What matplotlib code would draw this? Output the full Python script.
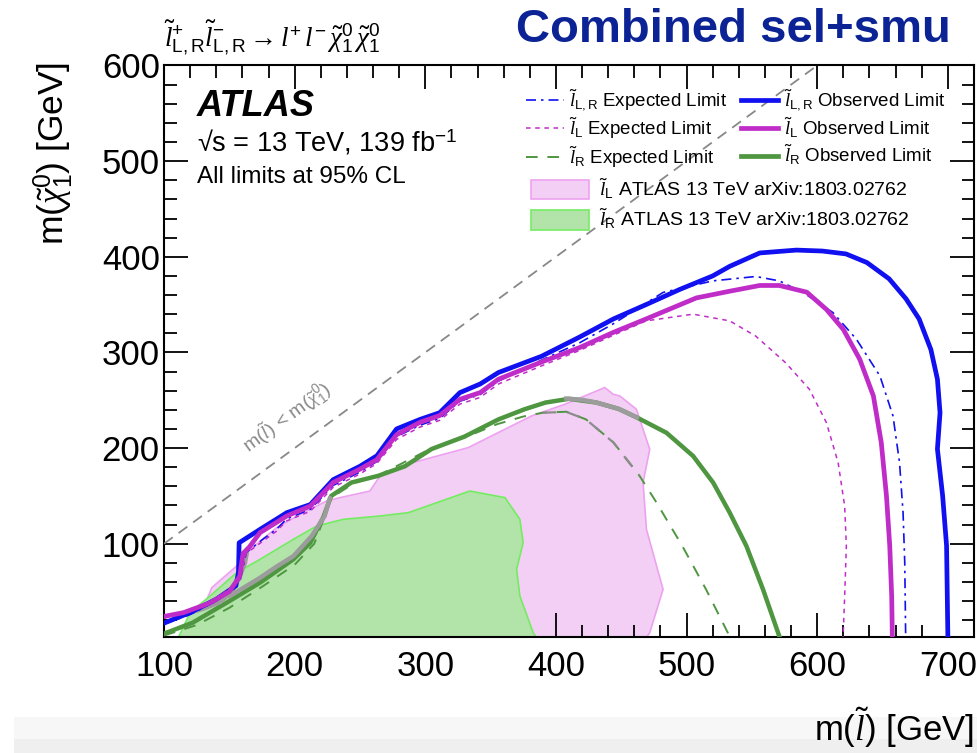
import matplotlib
matplotlib.use('Agg')
import matplotlib.pyplot as plt
from matplotlib.lines import Line2D
from matplotlib.patches import Patch, Rectangle
from matplotlib.font_manager import FontProperties
from matplotlib.ticker import MultipleLocator

plt.rcParams['font.family'] = ['Liberation Sans', 'DejaVu Sans']
plt.rcParams['mathtext.fontset'] = 'custom'
plt.rcParams['mathtext.rm'] = 'Liberation Sans'
plt.rcParams['mathtext.sf'] = 'Liberation Sans'
plt.rcParams['mathtext.it'] = 'Liberation Serif:italic'
plt.rcParams['mathtext.bf'] = 'Liberation Sans:bold'
plt.rcParams['mathtext.fallback'] = 'stix'

# ---------------- data (GeV) ----------------
blue_obs_x = [100, 120, 140, 155, 157, 157.5, 173.5, 194, 212, 229.5, 250, 263, 278, 296, 311, 326.5, 342, 356, 389,
              418, 444, 469, 495, 520, 533, 556, 584, 604, 622, 638, 655, 668, 678, 687, 692, 694, 692, 696, 699, 700]
blue_obs_y = [17, 28, 42, 56, 70, 101, 115, 132.5, 141, 167, 181, 192, 220, 230, 237, 258, 267, 279, 296,
              316, 335, 350, 366, 380, 390, 404, 407, 406, 403, 394, 377, 356, 335, 303, 272, 237, 199, 150, 98, 2]

blue_exp_x = [100, 120, 140, 158, 163, 175, 186, 194, 212, 229.5, 250, 263, 278, 296, 311, 326.5, 342, 356, 389,
              418, 444, 482, 520, 553, 571, 590, 612, 630, 648, 658, 663, 665.7, 667, 667.7]
blue_exp_y = [16, 26, 40, 60, 91, 104, 115, 126, 136, 161, 175, 186, 212, 224, 231, 249, 256, 270, 292,
              310, 330, 362.7, 374.8, 379.4, 374.8, 362, 341.7, 313.8, 275.4, 233.6, 184.8, 132.5, 80, 2]

mag_obs_x = [100, 115, 135, 150, 158, 160.5, 165, 173.5, 194, 212, 229.5, 250, 263, 278, 296, 311, 326.5, 342, 356,
             389, 418, 444, 469, 507.5, 533, 556, 571, 592, 607, 620, 632.5, 643, 649, 653, 655.5, 657, 657.5]
mag_obs_y = [24, 28, 38, 50, 66, 90, 96, 111.6, 129, 139.4, 164, 178, 188, 214, 227, 234, 251, 258, 272,
             290, 305, 321, 335, 357, 364, 370, 370, 363, 345, 324, 293, 254.5, 206, 150, 98, 45, 2]

mag_exp_x = [100, 120, 140, 158, 163, 175, 186, 194, 212, 229.5, 250, 263, 278, 296, 311, 326.5, 342, 356, 389,
             418, 444, 469, 505, 533, 553, 576, 594, 607, 616, 621, 622.3, 621, 619.8]
mag_exp_y = [22, 30, 42, 62, 90, 102, 113, 124, 134, 159, 173, 184, 209, 222, 229, 246, 253, 267, 286,
             302, 318, 333, 340, 333, 317, 289, 261.5, 226.7, 184.8, 139.4, 97.6, 45.3, 2]

green_obs_x = [100, 122, 148, 173.5, 199, 212, 222, 228, 243.5, 264, 284.4, 304.8, 330, 356, 376, 392, 410, 431,
               448, 462, 484.6, 505, 520.3, 533, 545.8, 558.5, 571.3]
green_obs_y = [6, 17.5, 38.4, 59.3, 83.7, 101, 128, 150, 164, 171, 181, 199, 212, 230, 240.6, 247.6, 251.5, 247.6,
               241, 232, 216, 191.7, 164, 132.5, 97.6, 52.3, 2]

green_exp_x = [100, 125, 150, 175, 200, 215, 222, 228, 245, 265, 285, 305, 330, 355, 375, 390, 408, 423, 444, 464,
               477, 497, 515, 533]
green_exp_y = [4, 15, 33, 55, 78, 100, 125, 148, 163, 172, 186, 200, 211, 225, 233, 237, 238, 230, 206, 171,
               143, 97, 52, 3]

gray_a_x = [112, 130, 143, 152, 158, 162, 164]
gray_a_y = [25, 32, 39, 50, 66, 80, 95]
gray_b_x = [150, 173, 186, 199, 213, 223, 227]
gray_b_y = [45, 64, 76, 87, 108, 129, 148]
gray_top_x = [408, 420, 431, 448, 462]
gray_top_y = [251.8, 250.5, 247.6, 241, 232]
gray_dash_x = [390, 408, 423, 444, 464]
gray_dash_y = [237, 237.8, 230, 205.8, 170.8]

pink_x = [120, 135, 136.5, 155.6, 165.8, 186.2, 206.6, 224.5, 234.7, 257.6, 265.3, 285.7, 332.9, 355.8, 381.3,
          406.8, 437.4, 443.8, 448.9, 461.6, 471.8, 466.7, 469.3, 482, 471.8, 469.3]
pink_y = [2, 48.8, 54, 76.7, 94, 116.8, 132.5, 144.7, 148.2, 155.1, 170.8, 183.1, 200.5, 216.2, 233.6,
          245.8, 263.3, 256.3, 254.5, 240.6, 198.7, 163.9, 115, 52.3, 7, 2]

gfill_x = [111, 120, 135.2, 155.6, 173.5, 199, 216.8, 237.2, 265.3, 287, 334.1, 361, 372.4, 374.9, 369.9, 372.4,
           382.6, 385]
gfill_y = [2, 28, 45.3, 69.8, 83.7, 104.6, 118.5, 125.5, 129, 132.5, 155.1, 148.2, 125.5, 101.2, 73.2, 45.3,
           7, 2]

diag = [100, 600]

x_ticks = [100, 200, 300, 400, 500, 600, 700]
y_ticks = [100, 200, 300, 400, 500, 600]

# ---------------- styles ----------------
C_BLUE = '#1010F0'
C_MAG = '#C02CC8'
C_GREEN = '#4E9640'
C_GRAY = '#9c9c9c'
PINK_FC = '#F3CFF5'
PINK_EC = '#EDA2F0'
GREEN_FC = '#B2E4AA'
GREEN_EC = '#74EC62'

W, H = 978, 753
fig = plt.figure(figsize=(W / 100, H / 100), dpi=100)
fig.patches.append(Rectangle((14 / W, 0), 1, 36 / H, transform=fig.transFigure,
                             facecolor='#f7f7f7', edgecolor='none', zorder=0))
fig.patches.append(Rectangle((14 / W, 0), 1, 14 / H, transform=fig.transFigure,
                             facecolor='#efefef', edgecolor='none', zorder=0))

ax = fig.add_axes([164 / W, 1 - 637 / H, (974 - 164) / W, (637 - 65) / H])
ax.set_xlim(100, 720)
ax.set_ylim(2.5, 600.5)

ax.fill(pink_x, pink_y, facecolor=PINK_FC, edgecolor=PINK_EC, lw=1.2, zorder=1)
ax.fill(gfill_x, gfill_y, facecolor=GREEN_FC, edgecolor=GREEN_EC, lw=1.2, zorder=2)

ax.plot(diag, diag, color='#888888', lw=1.3, ls=(0, (6, 4)), zorder=3)
ax.text(194, 232, r'm($\tilde{l}$) < m($\tilde{\chi}^{0}_{1}$)', rotation=36.2, color='#8a8a8a',
        fontsize=14, ha='center', va='center', rotation_mode='anchor', zorder=3)

ax.plot(green_exp_x, green_exp_y, color=C_GREEN, lw=1.4, ls=(0, (6, 5)), zorder=4)
ax.plot(green_obs_x, green_obs_y, color=C_GREEN, lw=3.2, zorder=5)
ax.plot(gray_a_x, gray_a_y, color=C_GRAY, lw=3.2, zorder=6, solid_capstyle='round')
ax.plot(gray_b_x, gray_b_y, color=C_GRAY, lw=3.2, zorder=6, solid_capstyle='round')
ax.plot(gray_top_x, gray_top_y, color=C_GRAY, lw=3.2, zorder=6)
ax.plot(gray_dash_x, gray_dash_y, color='#8c8c8c', lw=1.6, ls=(0, (6, 5)), zorder=6)

ax.plot(blue_exp_x, blue_exp_y, color=C_BLUE, lw=1.2, ls=(0, (6, 3, 1.5, 3)), zorder=7)
ax.plot(blue_obs_x, blue_obs_y, color=C_BLUE, lw=3.4, zorder=8)
ax.plot(mag_exp_x, mag_exp_y, color=C_MAG, lw=1.1, ls=(0, (3, 3)), zorder=9)
ax.plot(mag_obs_x, mag_obs_y, color=C_MAG, lw=3.4, zorder=10)

# axes style
ax.set_xticks(x_ticks)
ax.set_yticks(y_ticks)
ax.xaxis.set_minor_locator(MultipleLocator(20))
ax.yaxis.set_minor_locator(MultipleLocator(20))
ax.tick_params(which='both', direction='in', top=True, right=True, width=1.3, colors='black')
ax.tick_params(which='major', length=17)
ax.tick_params(which='minor', length=9)
ax.tick_params(axis='both', labelsize=25)
ax.tick_params(axis='x', pad=9)
ax.tick_params(axis='y', pad=3)
for s in ax.spines.values():
    s.set_linewidth(1.5)

# axis titles
fig.text(974 / W, 1 - 728 / H, r'm($\tilde{l}$) [GeV]', fontsize=25, ha='right', va='center')
fig.text(54 / W, 1 - 62 / H, r'm($\tilde{\chi}^{0}_{1}$) [GeV]', fontsize=25.5, ha='center', va='top',
         rotation=90)

# headers
fig.text(164 / W, 1 - 38 / H,
         r'$\tilde{l}^{+}_{\mathrm{L,R}}\tilde{l}^{-}_{\mathrm{L,R}}\rightarrow l^{+}\,l^{-}\,'
         r'\tilde{\chi}^{0}_{1}\,\tilde{\chi}^{0}_{1}$',
         fontsize=19.5, ha='left', va='center')
fig.text(951 / W, 1 - 30 / H, 'Combined sel+smu', fontsize=34, fontweight='bold', color='#0B2394',
         ha='right', va='center', family=['Liberation Sans Narrow', 'Liberation Sans'])

fig.text(197 / W, 1 - 106 / H, 'ATLAS', fontsize=26, fontweight='bold', fontstyle='italic', va='center')
fig.text(197 / W, 1 - 143 / H, '√s = 13 TeV, 139 fb$^{-1}$', fontsize=19.5, va='center')
fig.text(197 / W, 1 - 177 / H, 'All limits at 95% CL', fontsize=17.5, va='center')

# legends
fp1 = FontProperties(family='Liberation Sans', size=13.5)
fp2 = FontProperties(family='Liberation Sans', size=14)
h1 = [Line2D([], [], color=C_BLUE, lw=1.2, ls=(0, (6, 3, 1.5, 3))),
      Line2D([], [], color=C_MAG, lw=1.1, ls=(0, (3, 3))),
      Line2D([], [], color=C_GREEN, lw=1.4, ls=(0, (6, 5))),
      Line2D([], [], color=C_BLUE, lw=3.4),
      Line2D([], [], color=C_MAG, lw=3.4),
      Line2D([], [], color=C_GREEN, lw=3.4)]
l1 = [r'$\tilde{l}_{\mathrm{L,R}}$ Expected Limit', r'$\tilde{l}_{\mathrm{L}}$ Expected Limit',
      r'$\tilde{l}_{\mathrm{R}}$ Expected Limit', r'$\tilde{l}_{\mathrm{L,R}}$ Observed Limit',
      r'$\tilde{l}_{\mathrm{L}}$ Observed Limit', r'$\tilde{l}_{\mathrm{R}}$ Observed Limit']
leg1 = fig.legend(h1, l1, ncol=2, loc='upper left', bbox_to_anchor=(517 / W, 1 - 78 / H), frameon=False,
                  borderpad=0, handlelength=2.0, handletextpad=0.3, columnspacing=0.7, labelspacing=0.16,
                  prop=fp1)
h2 = [Patch(facecolor=PINK_FC, edgecolor=PINK_EC, lw=1.2), Patch(facecolor=GREEN_FC, edgecolor=GREEN_EC, lw=1.2)]
l2 = [r'$\tilde{l}_{\mathrm{L}}$ ATLAS 13 TeV arXiv:1803.02762',
      r'$\tilde{l}_{\mathrm{R}}$ ATLAS 13 TeV arXiv:1803.02762']
leg2 = fig.legend(h2, l2, loc='upper left', bbox_to_anchor=(521 / W, 1 - 167 / H), frameon=False,
                  borderpad=0, handlelength=3.0, handleheight=1.15, handletextpad=0.5, labelspacing=0.3,
                  prop=fp2)

fig.savefig('out.png', dpi=100)
